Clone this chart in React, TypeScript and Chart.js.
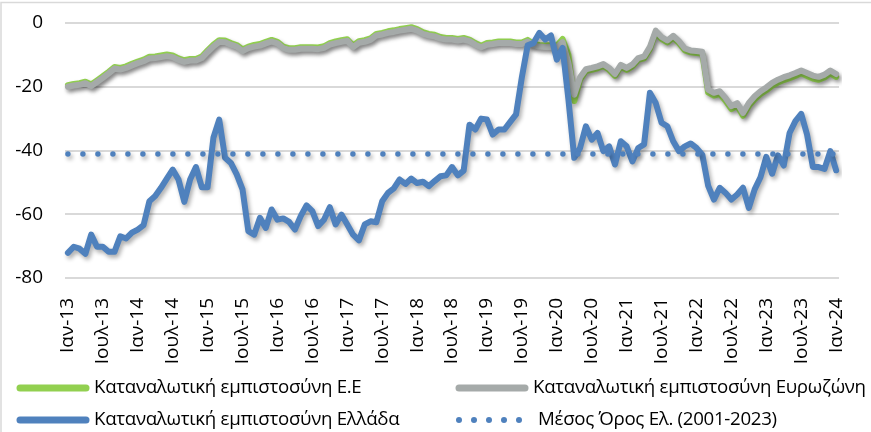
import React, { useEffect, useRef } from 'react';
import { Chart, registerables } from 'chart.js';

Chart.register(...registerables);

const monthNames = ['Ιαν', 'Φεβ', 'Μαρ', 'Απρ', 'Μαϊ', 'Ιουν', 'Ιουλ', 'Αυγ', 'Σεπ', 'Οκτ', 'Νοε', 'Δεκ'];
const firstYear = 13;
const monthCount = 133; // Ιαν-13 .. Ιαν-24
const categories: string[] = Array.from({ length: monthCount }, (_, i) => `${monthNames[i % 12]}-${firstYear + Math.floor(i / 12)}`);
const tickEvery = 6;

const euConfidence = [
  -19.5, -19.1, -18.9, -18.4, -19.3, -18.0, -16.7, -15.3, -13.8, -14.1, -13.6, -12.8,
  -12.1, -11.5, -10.6, -10.5, -10.2, -9.9, -10.2, -11.1, -11.7, -11.3, -11.3, -10.5,
  -8.6, -6.8, -5.4, -5.5, -6.3, -6.9, -8.3, -7.4, -6.9, -6.6, -5.9, -5.3,
  -5.9, -7.4, -7.9, -7.9, -7.6, -7.6, -7.6, -7.7, -7.3, -6.3, -5.8, -5.4,
  -5.1, -7.1, -5.7, -5.4, -4.8, -3.4, -3.1, -2.6, -2.3, -1.9, -1.6, -1.3,
  -1.9, -2.9, -3.4, -3.7, -4.4, -4.7, -4.7, -5.0, -4.7, -5.2, -6.3, -7.1,
  -6.3, -6.1, -5.8, -5.8, -5.8, -6.1, -6.1, -5.3, -6.5, -6.9, -7.0, -7.0,
  -7.1, -5.0, -10.0, -24.5, -17.8, -15.1, -14.7, -14.2, -13.5, -14.7, -16.6, -13.7,
  -14.7, -13.6, -11.6, -11.1, -8.1, -3.0, -5.0, -6.1, -4.6, -6.3, -8.6, -9.2,
  -9.4, -9.6, -21.8, -22.8, -22.3, -24.4, -27.0, -26.0, -29.1, -26.0, -23.9, -22.3,
  -21.1, -19.7, -18.7, -17.9, -17.3, -16.6, -15.8, -16.6, -17.4, -17.8, -17.1, -15.8,
  -16.9,
];

const euroAreaConfidence = [
  -20.0, -19.6, -19.4, -18.9, -19.8, -18.5, -17.2, -15.8, -14.3, -14.6, -14.1, -13.3,
  -12.6, -12.0, -11.1, -11.0, -10.7, -10.4, -10.7, -11.6, -12.2, -11.8, -11.8, -11.0,
  -9.1, -7.3, -5.9, -6.0, -6.8, -7.4, -8.8, -7.9, -7.4, -7.1, -6.4, -5.8,
  -6.4, -7.9, -8.4, -8.4, -8.1, -8.1, -8.1, -8.2, -7.8, -6.8, -6.3, -5.9,
  -5.6, -7.6, -6.2, -5.9, -5.3, -3.9, -3.6, -3.1, -2.8, -2.4, -2.1, -1.8,
  -2.4, -3.4, -3.9, -4.2, -4.9, -5.2, -5.2, -5.5, -5.2, -5.7, -6.8, -7.6,
  -6.8, -6.6, -6.3, -6.3, -6.3, -6.6, -6.6, -5.8, -7.0, -7.4, -7.5, -7.5,
  -7.6, -6.0, -12.5, -22.5, -17.0, -14.5, -14.1, -13.6, -12.9, -14.1, -16.0, -13.1,
  -14.1, -13.0, -11.0, -10.5, -7.5, -2.4, -4.4, -5.5, -4.0, -5.7, -8.0, -8.6,
  -8.8, -9.0, -20.9, -21.9, -21.4, -23.5, -26.1, -25.1, -28.2, -25.1, -23.0, -21.4,
  -20.2, -18.8, -17.8, -17.0, -16.4, -15.7, -14.9, -15.7, -16.5, -16.9, -16.2, -14.9,
  -16.0,
];

const greeceConfidence = [
  -72.1, -70.2, -70.8, -72.4, -66.4, -70.2, -70.2, -71.8, -71.8, -66.9, -67.6, -65.8,
  -64.8, -63.4, -55.9, -54.3, -51.7, -48.8, -46.0, -49.1, -56.1, -49.1, -45.2, -51.5,
  -51.5, -36.0, -30.3, -42.3, -43.9, -47.5, -52.2, -65.3, -66.4, -61.1, -64.3, -58.5,
  -61.7, -61.3, -62.4, -64.8, -60.6, -57.2, -59.0, -63.7, -61.7, -57.8, -63.2, -60.1,
  -63.2, -66.4, -68.2, -63.2, -62.2, -62.5, -55.9, -53.3, -51.9, -49.1, -50.5, -48.8,
  -50.2, -49.8, -51.2, -49.6, -48.1, -47.8, -45.2, -47.8, -46.3, -31.9, -33.4, -30.0,
  -30.3, -35.0, -33.4, -33.4, -31.0, -28.7, -17.0, -7.0, -6.3, -3.1, -5.2, -3.9,
  -11.5, -7.8, -24.0, -42.3, -39.2, -32.4, -36.6, -34.5, -40.2, -38.7, -44.4, -37.1,
  -38.7, -43.4, -39.2, -38.1, -21.9, -25.1, -31.3, -32.4, -37.1, -40.2, -38.7, -37.8,
  -39.2, -41.3, -51.0, -55.4, -51.7, -53.3, -55.4, -53.8, -51.7, -58.0, -52.2, -48.4,
  -42.0, -47.3, -41.5, -44.7, -34.5, -30.8, -28.5, -35.0, -45.2, -45.2, -45.8, -40.2,
  -46.2,
];

const greeceAverage2001to2023 = -41.1;

const yTicks = { min: -80, max: 0, step: 20 };

const seriesLabels = [
  'Καταναλωτική εμπιστοσύνη Ε.Ε',
  'Καταναλωτική εμπιστοσύνη Ευρωζώνη',
  'Καταναλωτική εμπιστοσύνη Ελλάδα',
  'Μέσος Όρος Ελ. (2001-2023)',
];

const GREEN = '#92D050';
const GRAY = '#A5AAA9';
const BLUE = '#4F81BD';
const FONT = "'Open Sans', 'Noto Sans', sans-serif";

const shadowPlugin = {
  id: 'lineShadow',
  beforeDatasetDraw(chart: any) {
    const ctx = chart.ctx;
    ctx.save();
    ctx.shadowColor = 'rgba(0,0,0,0.32)';
    ctx.shadowBlur = 4;
    ctx.shadowOffsetX = 2;
    ctx.shadowOffsetY = 3;
  },
  afterDatasetDraw(chart: any) {
    chart.ctx.restore();
  },
};

const frameAndLegendPlugin = {
  id: 'frameLegend',
  afterDraw(chart: any) {
    const ctx = chart.ctx;
    ctx.save();
    // chart-area frame (Excel style border)
    ctx.strokeStyle = '#D9D9D9';
    ctx.lineWidth = 1.5;
    ctx.beginPath();
    ctx.moveTo(1, 500);
    ctx.lineTo(1, 2.5);
    ctx.lineTo(900, 2.5);
    ctx.stroke();

    const ds = chart.data.datasets;
    const cols = [17, 456];
    const rows = [388, 420];
    ctx.font = `18.7px ${FONT}`;
    try {
      (ctx as any).letterSpacing = '-0.3px';
    } catch (e) {
      /* ignore */
    }
    ctx.textBaseline = 'middle';
    ctx.fillStyle = '#000';
    ds.forEach((d: any, k: number) => {
      const x = cols[k % 2];
      const y = rows[Math.floor(k / 2)];
      if (d.borderDash && d.borderDash.length) {
        ctx.fillStyle = d.borderColor;
        for (let j = 0; j < 5; j++) {
          ctx.beginPath();
          ctx.arc(x + 3 + j * 15, y, 3, 0, Math.PI * 2);
          ctx.fill();
        }
        ctx.fillStyle = '#000';
        ctx.fillText(d.label, x + 82, y);
      } else {
        ctx.strokeStyle = d.borderColor;
        ctx.lineWidth = 7;
        ctx.lineCap = 'round';
        ctx.beginPath();
        ctx.moveTo(x + 3, y);
        ctx.lineTo(x + 69, y);
        ctx.stroke();
        ctx.fillText(d.label, x + 77, y);
      }
    });
    ctx.restore();
  },
};

export default function App() {
  const ref = useRef<HTMLCanvasElement>(null);

  useEffect(() => {
    const canvas = ref.current;
    if (!canvas) return;
    const chart = new Chart(canvas, {
      type: 'line',
      data: {
        labels: categories,
        datasets: [
          { label: seriesLabels[0], data: euConfidence, borderColor: GREEN, backgroundColor: GREEN, borderWidth: 6, order: 4 },
          { label: seriesLabels[1], data: euroAreaConfidence, borderColor: GRAY, backgroundColor: GRAY, borderWidth: 6, order: 3 },
          { label: seriesLabels[2], data: greeceConfidence, borderColor: BLUE, backgroundColor: BLUE, borderWidth: 6, order: 2 },
          {
            label: seriesLabels[3],
            data: categories.map(() => greeceAverage2001to2023),
            borderColor: BLUE,
            backgroundColor: BLUE,
            borderWidth: 5.5,
            borderDash: [0, 15],
            borderCapStyle: 'round',
            order: 1,
          },
        ],
      },
      options: {
        animation: false,
        responsive: false,
        maintainAspectRatio: false,
        layout: { padding: { top: 23, right: 17, left: 0, bottom: 0 } },
        plugins: { legend: { display: false }, tooltip: { enabled: false } },
        elements: {
          point: { radius: 0, hoverRadius: 0 },
          line: { tension: 0, borderJoinStyle: 'round', borderCapStyle: 'round' },
        },
        scales: {
          x: {
            type: 'category',
            offset: true,
            grid: { display: false },
            border: { display: false },
            ticks: {
              autoSkip: false,
              maxRotation: 90,
              minRotation: 90,
              padding: 12,
              color: '#000',
              font: { family: FONT, size: 19 },
              callback: (_v: any, i: number) => (i % tickEvery === 0 ? categories[i] : null),
            },
            afterFit: (s: any) => {
              s.height = 154;
            },
          },
          y: {
            min: yTicks.min,
            max: yTicks.max,
            ticks: { stepSize: yTicks.step, padding: 4, color: '#000', font: { family: FONT, size: 19 } },
            grid: { color: '#D9D9D9', lineWidth: 2, drawTicks: true, tickLength: 18, tickColor: 'rgba(0,0,0,0)' },
            border: { display: false },
            afterFit: (s: any) => {
              s.width = 65;
            },
          },
        },
      },
      plugins: [shadowPlugin, frameAndLegendPlugin],
    } as any);
    return () => chart.destroy();
  }, []);

  return (
    <div style={{ position: 'absolute', left: 0, top: 0, width: 871, height: 432, background: '#fff' }}>
      <canvas ref={ref} width={871} height={432} style={{ display: 'block', width: 871, height: 432 }} />
    </div>
  );
}
